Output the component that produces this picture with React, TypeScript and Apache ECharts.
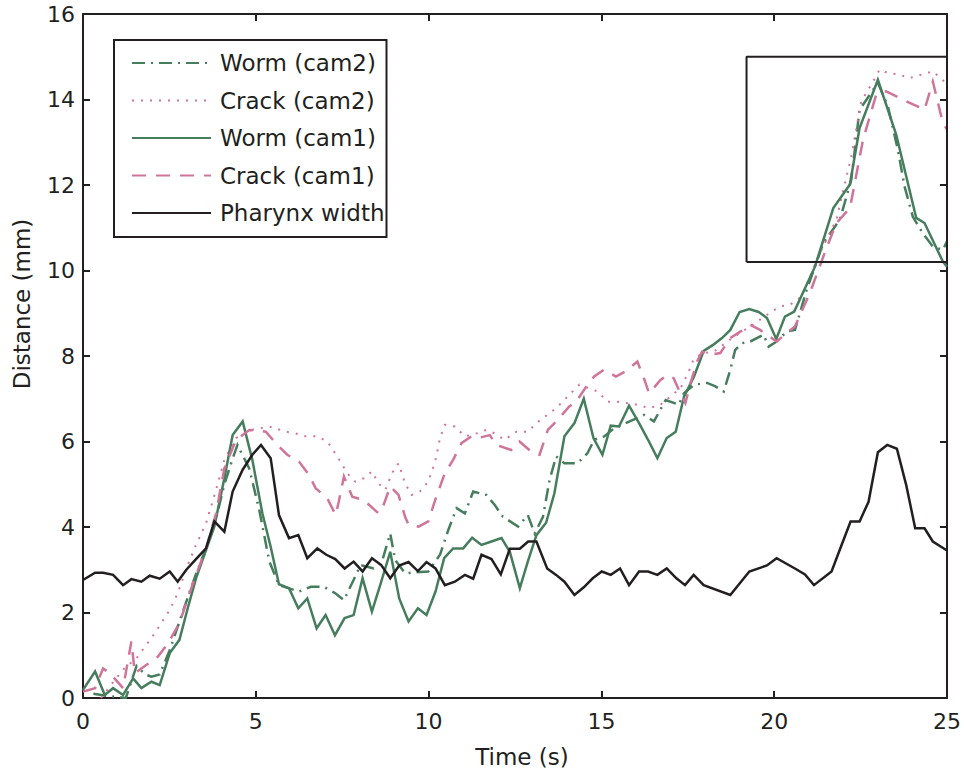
import React, { useEffect, useRef } from "react";
import * as echarts from "echarts";

// ---- data: [time (s), distance (mm)] ----
const wormCam2: number[][] = [
  [0.3, 0.1], [0.7, 0.05], [1.24, 0.0], [1.55, 0.75], [1.8, 0.55], [1.98, 0.5], [2.22, 0.55], [2.5, 1.1],
  [2.94, 2.14], [3.27, 2.9], [3.56, 3.5], [3.85, 4.2], [4.09, 5.0], [4.33, 5.6], [4.47, 5.92], [4.81, 5.37],
  [5.1, 4.4], [5.39, 3.2], [5.67, 2.64], [6.25, 2.49], [6.59, 2.6], [6.97, 2.6], [7.3, 2.45], [7.55, 2.29],
  [7.83, 2.76], [8.03, 3.11], [8.41, 3.03], [8.65, 3.19], [8.89, 3.85], [9.03, 3.23], [9.32, 2.92], [9.99, 2.96],
  [10.33, 3.35], [10.57, 3.93], [10.81, 4.44], [11.05, 4.32], [11.29, 4.83], [11.67, 4.75], [11.91, 4.52],
  [12.15, 4.24], [12.59, 4.01], [12.87, 4.28], [13.07, 3.85], [13.31, 4.24], [13.5, 5.1], [13.69, 5.65],
  [13.93, 5.49], [14.31, 5.49], [14.6, 5.73], [14.79, 6.04], [15.08, 6.12], [15.37, 6.31], [15.7, 6.43],
  [16.23, 6.62], [16.52, 6.47], [16.86, 6.97], [17.24, 6.86], [17.39, 7.13], [17.68, 7.33], [18.06, 7.37],
  [18.3, 7.29], [18.54, 7.17], [18.73, 7.68], [18.87, 8.14], [19.07, 8.3], [19.31, 8.34], [19.69, 8.5],
  [19.84, 8.22], [20.07, 8.34], [20.36, 8.57], [20.6, 8.61], [20.94, 9.55], [21.42, 10.64], [21.9, 11.19],
  [22.23, 12.12], [22.47, 13.76], [23.0, 14.39], [23.29, 13.84], [23.58, 12.82], [23.77, 11.97], [24.01, 11.26],
  [24.3, 10.87], [24.59, 10.56], [24.88, 10.48], [25.0, 10.68],
];

const crackCam2: number[][] = [
  [0.52, 0.0], [0.9, 0.4], [1.2, 0.7], [1.55, 0.93], [2.07, 1.51], [2.51, 2.06], [2.74, 2.45], [3.03, 3.11],
  [3.27, 3.58], [3.56, 4.09], [3.85, 4.87], [4.09, 5.57], [4.43, 6.08], [4.86, 6.27], [5.39, 6.35], [5.87, 6.23],
  [6.15, 6.19], [6.44, 6.12], [6.78, 6.12], [7.07, 6.0], [7.26, 5.77], [7.45, 5.53], [7.64, 5.26], [7.88, 5.06],
  [8.12, 5.14], [8.36, 5.3], [8.55, 5.02], [8.75, 4.87], [8.94, 5.26], [9.13, 5.49], [9.32, 5.02], [9.51, 4.75],
  [9.75, 4.83], [9.99, 5.06], [10.19, 5.53], [10.33, 6.08], [10.47, 6.39], [10.76, 6.35], [11.05, 6.12],
  [11.39, 6.19], [11.67, 6.27], [11.91, 6.19], [12.2, 6.04], [12.54, 6.23], [12.87, 6.23], [13.12, 6.43],
  [13.69, 6.78], [14.36, 7.33], [14.89, 7.17], [15.18, 6.93], [15.47, 6.93], [16.04, 6.86], [16.38, 6.78],
  [16.71, 6.86], [17.29, 7.25], [17.53, 7.64], [17.68, 7.95], [17.96, 8.07], [18.25, 8.1], [18.78, 8.42],
  [19.07, 8.57], [19.31, 8.69], [19.59, 8.85], [19.93, 9.04], [20.17, 9.16], [20.46, 9.2], [20.79, 9.39],
  [21.32, 10.41], [21.8, 11.19], [22.23, 12.67], [22.52, 13.96], [22.86, 14.42], [23.05, 14.7], [23.29, 14.62],
  [23.63, 14.58], [23.91, 14.5], [24.59, 14.66], [24.92, 14.42],
];

const wormCam1: number[][] = [
  [0, 0.19], [0.35, 0.62], [0.63, 0.07], [0.87, 0.23], [1.16, 0.07], [1.45, 0.46], [1.69, 0.23], [1.98, 0.38],
  [2.22, 0.3], [2.51, 1.05], [2.79, 1.36], [3.03, 2.1], [3.27, 2.8], [3.56, 3.46], [3.8, 4.01], [4.09, 5.14],
  [4.33, 6.15], [4.62, 6.47], [4.9, 5.57], [5.19, 4.32], [5.43, 3.54], [5.67, 2.66], [5.96, 2.57], [6.23, 2.1],
  [6.49, 2.33], [6.76, 1.63], [7.02, 1.94], [7.29, 1.47], [7.57, 1.87], [7.83, 1.94], [8.09, 2.8], [8.36, 2.02],
  [8.63, 2.72], [8.89, 3.42], [9.15, 2.33], [9.42, 1.79], [9.69, 2.1], [9.94, 1.94], [10.2, 2.49], [10.45, 3.27],
  [10.71, 3.5], [11.0, 3.5], [11.26, 3.75], [11.53, 3.58], [11.82, 3.66], [12.11, 3.74], [12.35, 3.42],
  [12.64, 2.57], [12.87, 3.19], [13.12, 3.81], [13.4, 4.1], [13.64, 4.79], [13.93, 6.12], [14.22, 6.43],
  [14.49, 7.0], [14.77, 6.08], [15.03, 5.69], [15.27, 6.37], [15.51, 6.35], [15.8, 6.84], [16.09, 6.43],
  [16.35, 6.04], [16.62, 5.61], [16.89, 6.08], [17.15, 6.23], [17.39, 7.05], [17.68, 7.52], [17.96, 8.12],
  [18.23, 8.26], [18.49, 8.42], [18.73, 8.61], [19.0, 9.03], [19.28, 9.1], [19.55, 9.03], [19.79, 8.89],
  [20.06, 8.4], [20.31, 8.92], [20.58, 9.04], [21.18, 10.09], [21.71, 11.46], [22.19, 12.01], [22.47, 13.33],
  [23.0, 14.46], [23.53, 13.18], [24.11, 11.23], [24.35, 11.11], [24.88, 10.21], [25.0, 10.09],
];

const crackCam1: number[][] = [
  [0, 0.15], [0.35, 0.23], [0.58, 0.69], [0.78, 0.58], [1.16, 0.23], [1.4, 1.32], [1.5, 0.58], [1.83, 0.77],
  [2.17, 0.97], [2.46, 1.28], [2.79, 1.75], [3.18, 2.68], [3.56, 3.5], [3.85, 4.32], [4.09, 5.37], [4.43, 6.04],
  [4.81, 6.27], [5.29, 6.23], [5.58, 5.96], [5.91, 5.69], [6.25, 5.53], [6.54, 5.22], [6.73, 4.91], [7.07, 4.67],
  [7.31, 4.28], [7.4, 4.59], [7.55, 5.18], [7.79, 4.71], [8.12, 4.63], [8.55, 4.32], [8.7, 4.52], [8.89, 4.95],
  [9.13, 4.75], [9.32, 4.24], [9.42, 4.05], [9.71, 4.01], [9.99, 4.13], [10.19, 4.63], [10.47, 5.26],
  [10.71, 5.57], [10.95, 5.96], [11.24, 6.12], [11.43, 6.08], [11.77, 6.15], [11.96, 5.92], [12.39, 5.8],
  [12.63, 6.0], [13.02, 5.73], [13.21, 5.69], [13.45, 6.27], [13.74, 6.51], [14.07, 6.82], [14.27, 6.93],
  [14.6, 7.33], [14.79, 7.52], [15.08, 7.68], [15.42, 7.52], [15.7, 7.64], [16.04, 7.87], [16.23, 7.48],
  [16.38, 7.13], [16.71, 7.44], [16.91, 7.56], [17.09, 7.48], [17.24, 7.21], [17.43, 6.9], [17.58, 7.37],
  [17.77, 7.87], [17.91, 8.1], [18.16, 8.03], [18.44, 8.07], [18.73, 8.42], [19.02, 8.57], [19.31, 8.73],
  [19.59, 8.61], [20.07, 8.34], [20.31, 8.5], [20.6, 8.69], [21.03, 9.47], [21.51, 10.52], [21.8, 11.11],
  [22.19, 11.46], [22.33, 12.04], [22.57, 13.06], [22.95, 14.11], [23.24, 14.19], [23.82, 13.96],
  [24.35, 13.76], [24.59, 14.42], [24.88, 13.45], [25.0, 13.3],
];

const pharynxWidth: number[][] = [
  [0, 2.76], [0.35, 2.93], [0.58, 2.93], [0.87, 2.88], [1.16, 2.64], [1.4, 2.78], [1.69, 2.72], [1.93, 2.86],
  [2.22, 2.79], [2.51, 2.96], [2.74, 2.72], [2.99, 3.0], [3.27, 3.25], [3.56, 3.5], [3.8, 4.13], [4.09, 3.89],
  [4.33, 4.83], [4.62, 5.34], [4.9, 5.69], [5.15, 5.92], [5.43, 5.61], [5.67, 4.28], [5.96, 3.74], [6.23, 3.81],
  [6.49, 3.27], [6.78, 3.5], [7.04, 3.35], [7.3, 3.25], [7.57, 3.03], [7.83, 3.19], [8.09, 2.96], [8.36, 3.27],
  [8.63, 3.11], [8.89, 2.8], [9.15, 3.1], [9.42, 3.18], [9.69, 2.97], [9.94, 3.18], [10.2, 3.03], [10.47, 2.64],
  [10.76, 2.72], [11.05, 2.88], [11.29, 2.79], [11.53, 3.35], [11.82, 3.25], [12.09, 2.89], [12.35, 3.49],
  [12.64, 3.49], [12.88, 3.66], [13.12, 3.66], [13.43, 3.03], [13.69, 2.88], [13.93, 2.72], [14.22, 2.41],
  [14.49, 2.59], [14.75, 2.8], [15.01, 2.96], [15.27, 2.88], [15.54, 3.03], [15.8, 2.64], [16.09, 2.96],
  [16.35, 2.96], [16.62, 2.88], [16.89, 3.03], [17.17, 2.8], [17.42, 2.64], [17.67, 2.88], [17.96, 2.64],
  [18.73, 2.41], [19.28, 2.96], [19.79, 3.1], [20.07, 3.27], [20.6, 3.03], [20.89, 2.89], [21.15, 2.64],
  [21.66, 2.96], [21.95, 3.58], [22.21, 4.13], [22.47, 4.13], [22.73, 4.59], [23.0, 5.75], [23.27, 5.92],
  [23.55, 5.83], [23.82, 4.98], [24.08, 3.97], [24.35, 3.97], [24.59, 3.66], [25.0, 3.45],
];

// inset highlight box corners
const insetBox: number[][] = [[19.2, 10.2], [19.2, 15.0], [25.0, 15.0], [25.0, 10.2], [19.2, 10.2]];

const seriesNames = ["Worm (cam2)", "Crack (cam2)", "Worm (cam1)", "Crack (cam1)", "Pharynx width"];
const xTitle = "Time (s)";
const yTitle = "Distance (mm)";

const GREEN = "#467d5d";
const PINK = "#d0749a";
const BLACK = "#231f20";
const FONT = "DejaVu Sans";

export default function App() {
  const ref = useRef<HTMLDivElement>(null);
  useEffect(() => {
    document.body.style.margin = "0";
    if (!ref.current) return;
    const chart = echarts.init(ref.current, undefined, { renderer: "svg" });
    const axisCommon = {
      type: "value" as const,
      axisLine: { show: true, onZero: false, lineStyle: { color: BLACK, width: 2 } },
      axisTick: { show: true, inside: true, length: 7, lineStyle: { color: BLACK, width: 2 } },
      splitLine: { show: false },
    };
    const labelStyle = { color: BLACK, fontFamily: FONT, fontSize: 22 };
    const mk = (name: string, data: number[][], color: string, type: any, width: number) => ({
      name,
      type: "line",
      data,
      symbol: "none",
      lineStyle: { color, width, type, cap: "butt", join: "miter" },
      itemStyle: { color },
      emphasis: { disabled: true },
    });
    chart.setOption({
      animation: false,
      backgroundColor: "#ffffff",
      grid: { left: 83, right: 13, top: 14, bottom: 79 },
      xAxis: [
        { ...axisCommon, min: 0, max: 25, interval: 5, position: "bottom",
          axisLabel: { ...labelStyle, margin: 12 } },
        { ...axisCommon, min: 0, max: 25, interval: 5, position: "top", axisLabel: { show: false } },
      ],
      yAxis: [
        { ...axisCommon, min: 0, max: 16, interval: 2, position: "left",
          axisLabel: { ...labelStyle, margin: 8 } },
        { ...axisCommon, min: 0, max: 16, interval: 2, position: "right", axisLabel: { show: false } },
      ],
      legend: {
        data: seriesNames,
        orient: "vertical",
        left: 114,
        top: 40,
        padding: [10, 2, 11, 17],
        itemWidth: 79,
        itemHeight: 26,
        itemGap: 11.5,
        backgroundColor: "#ffffff",
        borderColor: BLACK,
        borderWidth: 2,
        borderRadius: 0,
        selectedMode: false,
        itemStyle: { opacity: 0, borderWidth: 0 },
        textStyle: { color: BLACK, fontFamily: FONT, fontSize: 23, lineHeight: 26, padding: [0, 0, 0, 4] },
      },
      graphic: [
        { type: "text", x: 22, y: 304, rotation: Math.PI / 2,
          style: { text: yTitle, fill: BLACK, font: `23px "${FONT}"`, align: "center", verticalAlign: "middle" } },
        { type: "text", x: 522, y: 757,
          style: { text: xTitle, fill: BLACK, font: `23px "${FONT}"`, align: "center", verticalAlign: "middle" } },
      ],
      series: [
        mk(seriesNames[0], wormCam2, GREEN, [13, 6, 2, 6], 2.5),
        mk(seriesNames[1], crackCam2, PINK, [2, 7], 2),
        mk(seriesNames[2], wormCam1, GREEN, "solid", 2.5),
        mk(seriesNames[3], crackCam1, PINK, [14, 10], 2.5),
        mk(seriesNames[4], pharynxWidth, BLACK, "solid", 2.5),
        {
          name: "inset",
          type: "line",
          data: insetBox,
          symbol: "none",
          clip: false,
          lineStyle: { color: BLACK, width: 2 },
          emphasis: { disabled: true },
          silent: true,
        },
      ],
    });
    return () => chart.dispose();
  }, []);
  return <div ref={ref} style={{ width: 964, height: 777 }} />;
}
